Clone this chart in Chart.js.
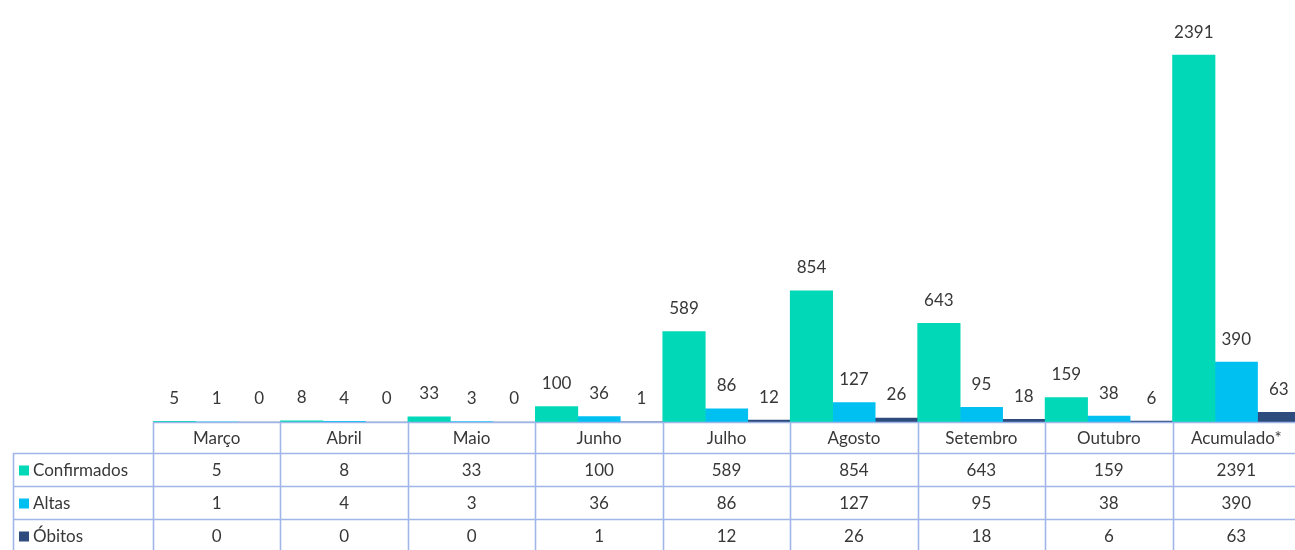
<!DOCTYPE html>
<html>
<head>
<meta charset="utf-8">
<script src="https://cdn.jsdelivr.net/npm/chart.js@4"></script>
<style>
  html, body { margin: 0; padding: 0; background: #fff; overflow: hidden; }
  #wrap { width: 1300px; height: 550px; }
</style>
</head>
<body>
<div id="wrap"><canvas id="chart" width="1300" height="550"></canvas></div>
<script>
var categories = ['Março', 'Abril', 'Maio', 'Junho', 'Julho', 'Agosto', 'Setembro', 'Outubro', 'Acumulado*'];
var seriesNames = ['Confirmados', 'Altas', 'Óbitos'];
var confirmados = [5, 8, 33, 100, 589, 854, 643, 159, 2391];
var altas = [1, 4, 3, 36, 86, 127, 95, 38, 390];
var obitos = [0, 0, 0, 1, 12, 26, 18, 6, 63];

var colors = ['#00d8b8', '#00c0f2', '#2e4b7e'];
var font = '17px Lato, "Open Sans", sans-serif';
var textColor = '#383838';
var gridColor = '#a0b5e8';

// draws value labels above bars plus the excel style data table below
var tablePlugin = {
  id: 'dataTable',
  afterDatasetsDraw: function (chart) {
    var ctx = chart.ctx,
      area = chart.chartArea,
      n = categories.length,
      w = (area.right - area.left) / n,
      rows = [area.bottom, 453, 486, 519, 552],
      firstCol = 13;

    ctx.save();
    ctx.font = font;
    ctx.fillStyle = textColor;
    ctx.textAlign = 'center';
    ctx.textBaseline = 'middle';

    chart.data.datasets.forEach(function (ds, i) {
      chart.getDatasetMeta(i).data.forEach(function (bar, j) {
        ctx.fillText(String(ds.data[j]), bar.x, bar.y - 23);
      });
    });

    // grid
    ctx.strokeStyle = gridColor;
    ctx.lineWidth = 1.6;
    ctx.beginPath();
    rows.forEach(function (y, r) {
      var x0 = r === 0 ? area.left : firstCol;
      ctx.moveTo(x0, y + 0.5);
      ctx.lineTo(area.right, y + 0.5);
    });
    for (var k = 0; k <= n; k++) {
      var x = Math.round(area.left + k * w) + 0.5;
      ctx.moveTo(x, area.bottom);
      ctx.lineTo(x, 552);
    }
    ctx.moveTo(firstCol + 0.5, rows[1]);
    ctx.lineTo(firstCol + 0.5, 552);
    ctx.stroke();

    // header row
    var xs = chart.scales.x;
    categories.forEach(function (c, j) {
      ctx.fillText(c, xs.getPixelForValue(j), (rows[0] + rows[1]) / 2 + 1);
    });

    // body rows
    chart.data.datasets.forEach(function (ds, i) {
      var yc = (rows[i + 1] + rows[i + 2]) / 2 + 1;
      ctx.fillStyle = ds.backgroundColor;
      ctx.fillRect(firstCol + 6, yc - 5, 10, 10);
      ctx.fillStyle = textColor;
      ctx.textAlign = 'left';
      ctx.fillText(ds.label, firstCol + 20, yc);
      ctx.textAlign = 'center';
      ds.data.forEach(function (v, j) {
        ctx.fillText(String(v), xs.getPixelForValue(j), yc);
      });
    });
    ctx.restore();
  }
};

new Chart(document.getElementById('chart'), {
  type: 'bar',
  data: {
    labels: categories,
    datasets: [
      { label: seriesNames[0], data: confirmados, backgroundColor: colors[0] },
      { label: seriesNames[1], data: altas, backgroundColor: colors[1] },
      { label: seriesNames[2], data: obitos, backgroundColor: colors[2] }
    ]
  },
  options: {
    responsive: false,
    animation: false,
    layout: { padding: { left: 153, right: 0, top: 0, bottom: 128 } },
    datasets: { bar: { categoryPercentage: 1, barPercentage: 1, minBarLength: 0 } },
    scales: {
      x: { display: false },
      y: { display: false, min: 0, max: 2750 }
    },
    plugins: {
      legend: { display: false },
      tooltip: { enabled: false }
    }
  },
  plugins: [tablePlugin]
});
</script>
</body>
</html>
